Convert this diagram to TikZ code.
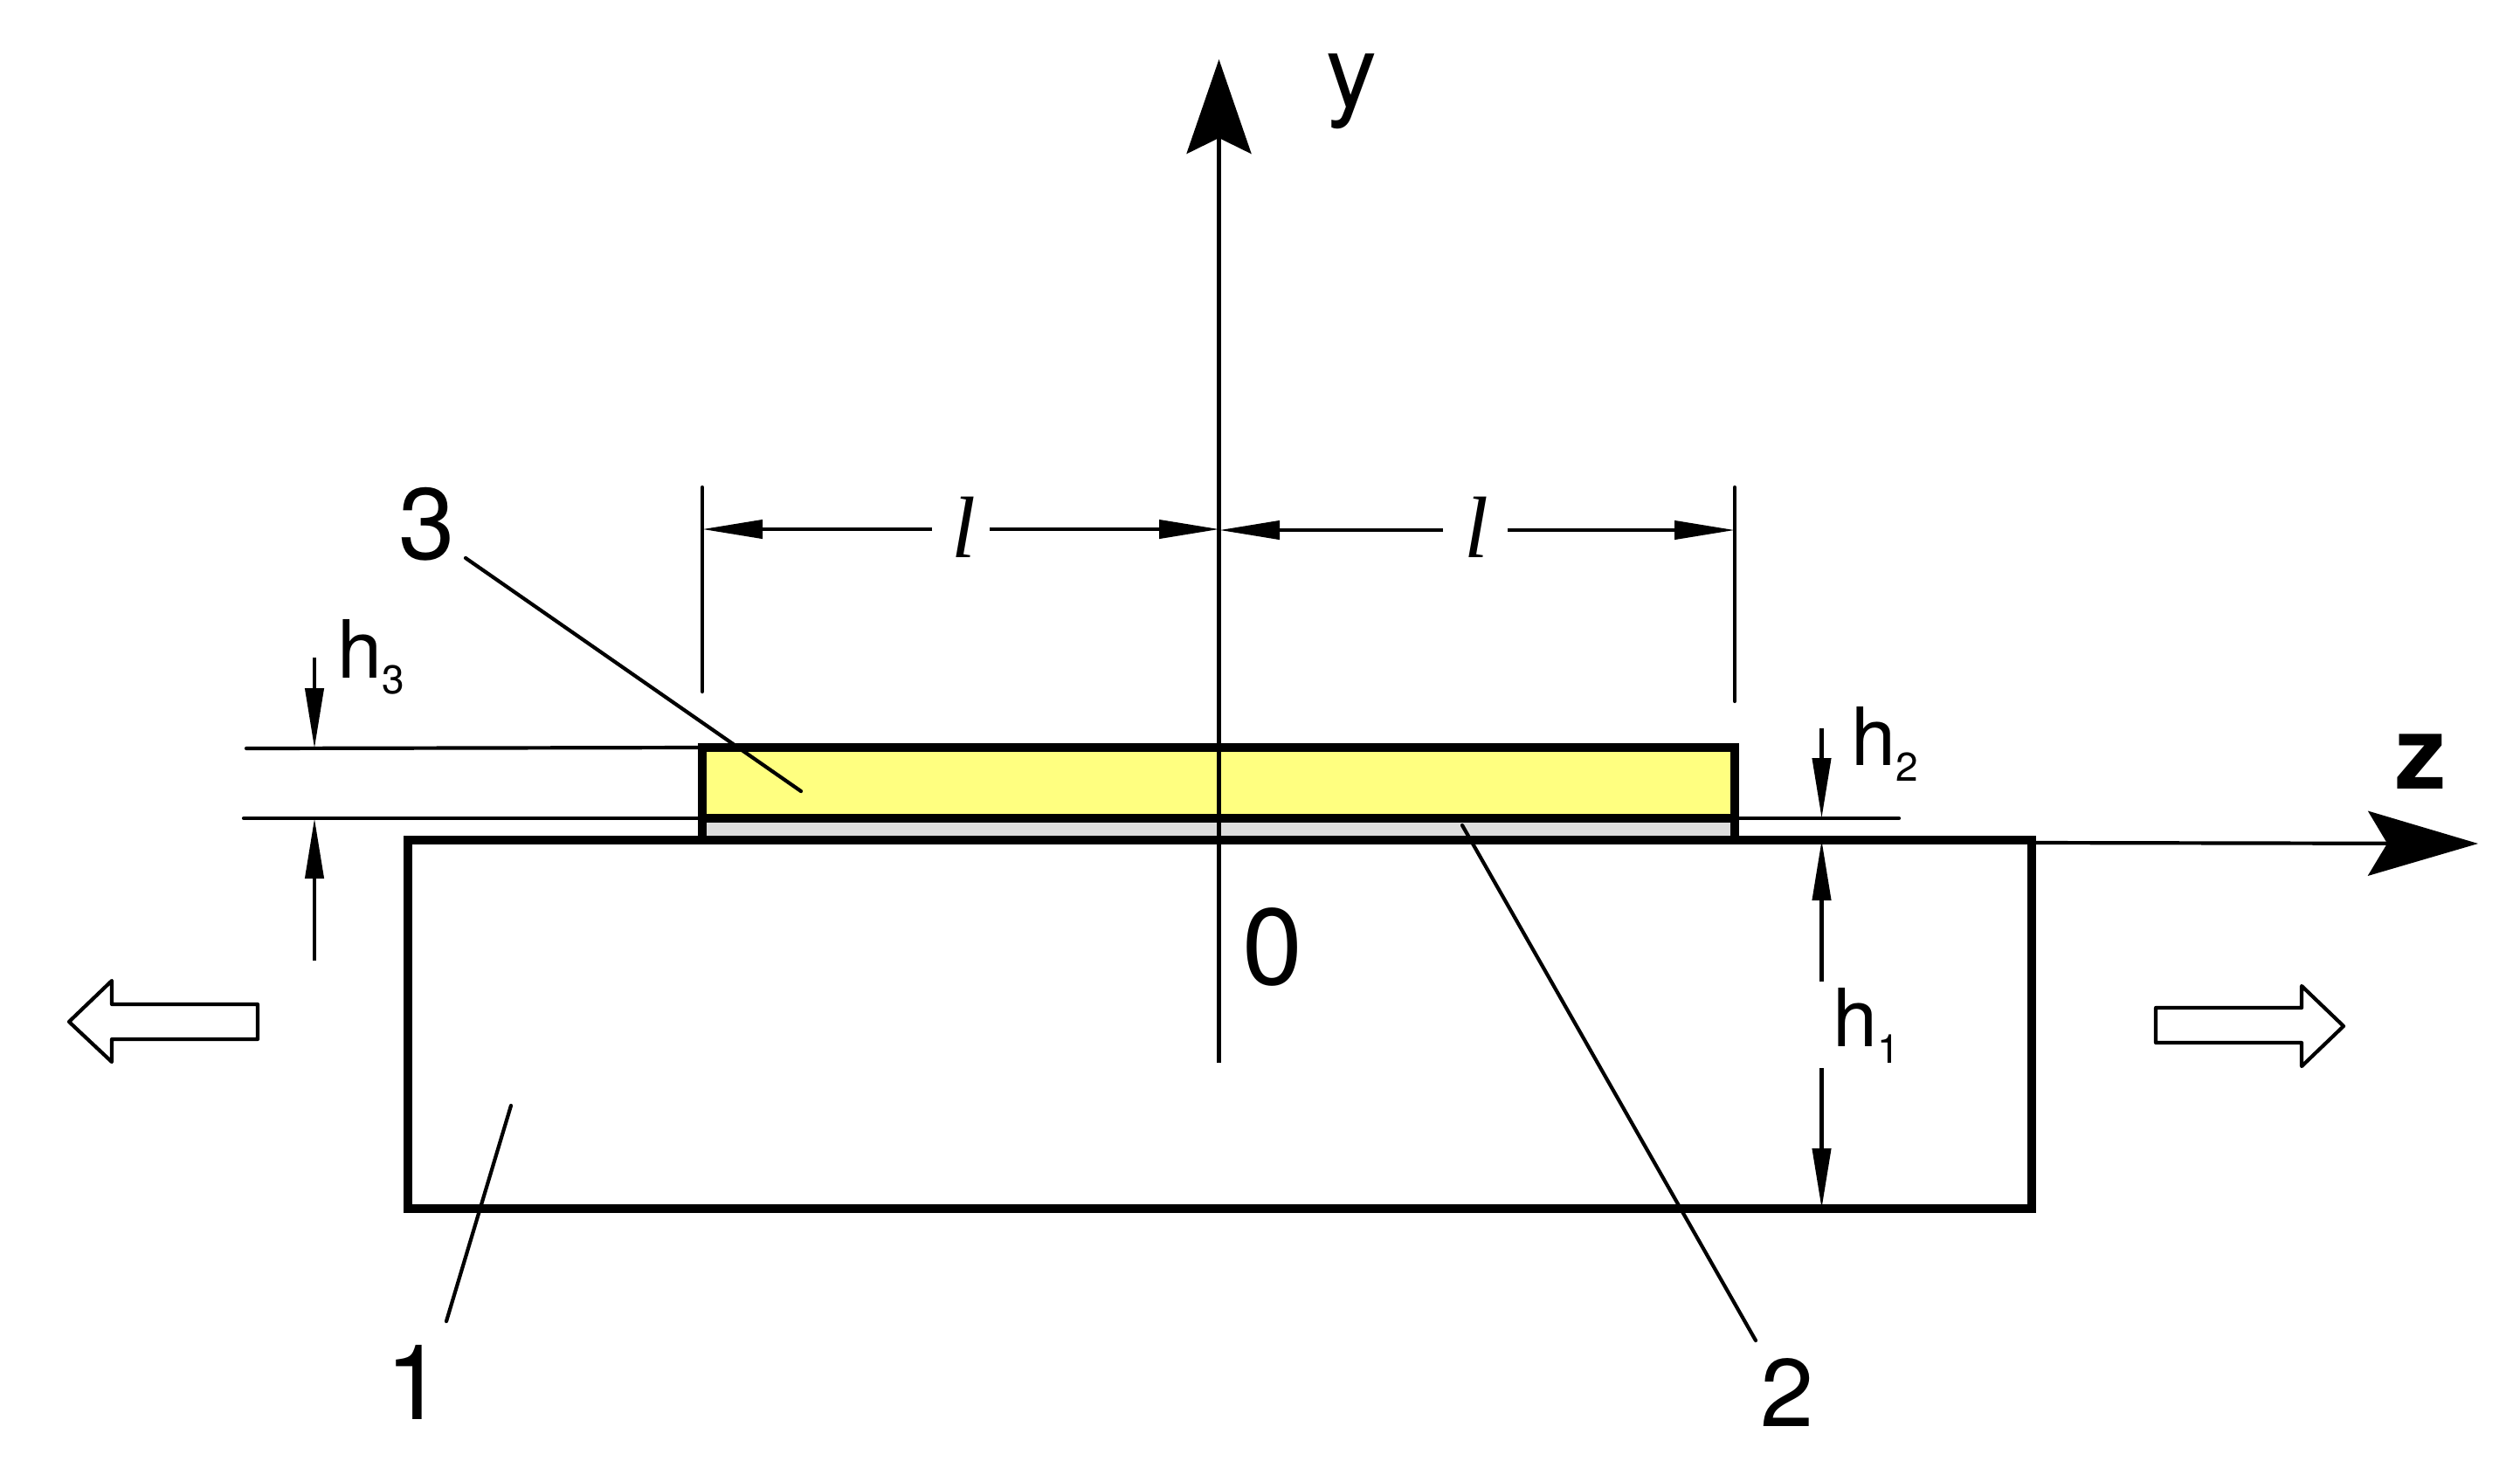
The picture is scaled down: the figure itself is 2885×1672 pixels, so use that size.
\documentclass[tikz,border=0pt]{standalone}
\usepackage{fontspec}
\setmainfont{TeX Gyre Heros}
\newfontfamily\serifit{Liberation Serif}
\usetikzlibrary{arrows.meta}
\definecolor{layerY}{RGB}{255,255,128}
\definecolor{layerG}{RGB}{221,221,221}
\tikzset{
  x=0.5pt,y=-0.5pt,
  thinl/.style={line width=2.1pt,line cap=round},
  thick box/.style={line width=4.75pt,line join=miter},
  dimtip/.style={-{Stealth[length=34.5pt,width=10.5pt,inset=0pt]}},
  ytip/.style={-{Stealth[length=54pt,width=37pt,inset=9pt]}},
  ztip/.style={-{Stealth[length=63pt,width=37pt,inset=11pt]}},
  big/.style={inner sep=0pt,anchor=base,font=\fontsize{#1}{#1}\selectfont},
  hlab/.style={inner sep=0pt,anchor=base west,font=\fontsize{46pt}{46pt}\selectfont},
  sublab/.style={inner sep=0pt,anchor=base west,font=\fontsize{23pt}{23pt}\selectfont},
  ell/.style={inner sep=0pt,anchor=base,font=\fontsize{50pt}{50pt}\serifit\itshape},
}
\begin{document}
\begin{tikzpicture}
\useasboundingbox (0,0) rectangle (2885,1672);
% reference points
\coordinate (yb) at (1395.5,1217); \coordinate (yt) at (1395.5,68);
\coordinate (zs) at (2326,965); \coordinate (zt) at (2837,966);
\coordinate (A1) at (804,856); \coordinate (A2) at (1986,856);
\coordinate (B1) at (804,937); \coordinate (B2) at (1986,937);
\coordinate (C1) at (804,962); \coordinate (C2) at (1986,962);
\coordinate (S1) at (467,962); \coordinate (S2) at (2326,962);
\coordinate (S3) at (2326,1384); \coordinate (S4) at (467,1384);
% layers
\fill[layerY] (A1) rectangle (B2);
\fill[layerG] (B1) rectangle (C2);
% extension lines
\coordinate (e1) at (804,558); \coordinate (e2) at (804,792);
\coordinate (e3) at (1986,558); \coordinate (e4) at (1986,803);
\coordinate (e5) at (282,857); \coordinate (e6) at (279,937); \coordinate (e7) at (2174,937);
\draw[thinl] (e1) -- (e2);
\draw[thinl] (e3) -- (e4);
\draw[thinl] (e5) -- (A1);
\draw[thinl] (e6) -- (B1);
\draw[thinl] (B2) -- (e7);
% layer outlines
\draw[thick box] (S1) -- (S2) -- (S3) -- (S4) -- cycle;
\draw[thick box] (C1) -- (A1) -- (A2) -- (C2);
\draw[thick box] (B1) -- (B2);
% axes
\draw[thinl,line cap=butt,ytip] (yb) -- (yt);
\draw[thinl,line cap=butt,ztip] (zs) -- (zt);
% dimension l
\coordinate (d1) at (1067,606); \coordinate (d0) at (804,606);
\coordinate (d2) at (1133,606); \coordinate (dm) at (1396,606);
\coordinate (d3) at (1652,607); \coordinate (dn) at (1396,607);
\coordinate (d4) at (1726,607); \coordinate (d5) at (1986,607);
\draw[thinl,line cap=butt,dimtip] (d1) -- (d0);
\draw[thinl,line cap=butt,dimtip] (d2) -- (dm);
\draw[thinl,line cap=butt,dimtip] (d3) -- (dn);
\draw[thinl,line cap=butt,dimtip] (d4) -- (d5);
% dimension h3
\coordinate (h3a) at (360,753); \coordinate (h3b) at (360,857);
\coordinate (h3c) at (360,1100); \coordinate (h3d) at (360,937);
\draw[thinl,line cap=butt,dimtip] (h3a) -- (h3b);
\draw[thinl,line cap=butt,dimtip] (h3c) -- (h3d);
% dimension h2
\coordinate (h2a) at (2085.5,834); \coordinate (h2b) at (2085.5,937);
\draw[thinl,line cap=butt,dimtip] (h2a) -- (h2b);
% dimension h1
\coordinate (h1a) at (2085.5,1124); \coordinate (h1b) at (2085.5,962);
\coordinate (h1c) at (2085.5,1223); \coordinate (h1d) at (2085.5,1384);
\draw[thinl,line cap=butt,dimtip] (h1a) -- (h1b);
\draw[thinl,line cap=butt,dimtip] (h1c) -- (h1d);
% leaders
\coordinate (L3a) at (533,639); \coordinate (L3b) at (917,906);
\coordinate (L1a) at (585,1266); \coordinate (L1b) at (511,1513);
\coordinate (L2a) at (1674,945); \coordinate (L2b) at (2010,1535);
\draw[thinl] (L3a) -- (L3b);
\draw[thinl] (L1a) -- (L1b);
\draw[thinl] (L2a) -- (L2b);
% hollow arrows
\draw[thinl,line join=round] (2468,1154) -- (2635,1154) -- (2635,1129) -- (2683,1175) -- (2635,1221) -- (2635,1194) -- (2468,1194) -- cycle;
\draw[thinl,line join=round] (295,1150) -- (128,1150) -- (128,1123) -- (79,1170) -- (128,1216) -- (128,1190) -- (295,1190) -- cycle;
% labels
\node[big=58pt] (n3) at (489,640) {3};
\node[big=60pt] (n1) at (475,1625) {1};
\node[big=55pt] (n2) at (2046,1633) {2};
\node[big=62pt] (n0) at (1457,1127) {0};
\node[big=58pt,font=\fontsize{58pt}{58pt}\bfseries] (nz) at (2771,903) {z};
\node[big=58pt] (ny) at (1547,122) {y};
\node[hlab] (hh3) at (386,776) {h};
\node[sublab] (s3) at (437,794) {3};
\node[hlab] (hh2) at (2119,876) {h};
\node[sublab] (s2) at (2170,894) {2};
\node[hlab] (hh1) at (2098,1198) {h};
\node[sublab] (s1) at (2149,1217) {1};
\node[ell] (l1) at (1103,638) {l};
\node[ell] (l2) at (1690,638) {l};
\end{tikzpicture}
\end{document}
